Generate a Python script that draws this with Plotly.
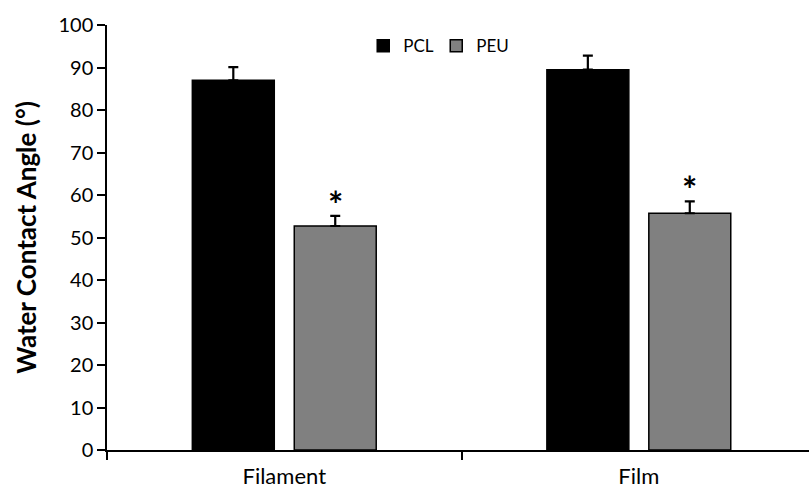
import plotly.graph_objects as go

categories = ["Filament", "Film"]
pcl_values = [87.0, 89.5]
pcl_errors = [3.1, 3.3]
peu_values = [52.7, 55.7]
peu_errors = [2.4, 2.8]
peu_significance = ["*", "*"]
y_ticks = [0, 10, 20, 30, 40, 50, 60, 70, 80, 90, 100]

FONT = "Lato, 'Open Sans', sans-serif"

fig = go.Figure()
fig.add_trace(go.Bar(
    name="PCL", x=categories, y=pcl_values,
    marker=dict(color="#000000", line=dict(color="#000000", width=1.5)),
    error_y=dict(type="data", array=pcl_errors, arrayminus=[0] * len(pcl_errors),
                 symmetric=False, color="#000000", thickness=2.2, width=5),
))
fig.add_trace(go.Bar(
    name="PEU", x=categories, y=peu_values,
    marker=dict(color="#808080", line=dict(color="#000000", width=1.5)),
    error_y=dict(type="data", array=peu_errors, arrayminus=[0] * len(peu_errors),
                 symmetric=False, color="#000000", thickness=2.2, width=5),
))

for i, (v, e, s) in enumerate(zip(peu_values, peu_errors, peu_significance)):
    if s:
        fig.add_annotation(x=i + 0.1437, y=v + e, xref="x", yref="y", text="<b>" + s + "</b>",
                           showarrow=False, yanchor="middle", yshift=12,
                           font=dict(family=FONT, size=36, color="#000000"))

fig.update_layout(
    width=809, height=491,
    margin=dict(l=107, r=0, t=25, b=41),
    paper_bgcolor="white", plot_bgcolor="white",
    barmode="group", bargap=0.425, bargroupgap=0.196,
    font=dict(family=FONT, size=17, color="#000000"),
    showlegend=True,
    legend=dict(orientation="h", x=0.365, y=0.95, xanchor="left", yanchor="middle",
                font=dict(family=FONT, size=17, color="#000000"),
                bgcolor="rgba(0,0,0,0)", itemwidth=30, tracegroupgap=0,
                entrywidth=28, entrywidthmode="pixels"),
)
fig.update_xaxes(
    range=[-0.5, 1.48], showline=True, linecolor="#000000", linewidth=1.5,
    ticks="", showgrid=False, zeroline=False, automargin=False,
    ticklabelstandoff=6,
    tickfont=dict(family=FONT, size=22, color="#000000"),
    minor=dict(tickvals=[-0.5, 0.5, 1.5], ticks="outside", ticklen=8, tickwidth=1.5,
               tickcolor="#000000", showgrid=False),
)
fig.update_yaxes(
    range=[0, 100], tickvals=y_ticks, showline=True, linecolor="#000000", linewidth=1.5,
    ticks="outside", ticklen=8, tickwidth=1.5, tickcolor="#000000",
    showgrid=False, zeroline=False, automargin=False,
    tickfont=dict(family=FONT, size=20, color="#000000"),
    title=dict(text="<b>Water Contact Angle (°)</b>", font=dict(family=FONT, size=26, color="#000000"),
               standoff=14),
)

fig.write_html("out.html", config={"displayModeBar": False},
               post_script="document.body.style.margin='0';document.body.style.overflow='hidden';")
